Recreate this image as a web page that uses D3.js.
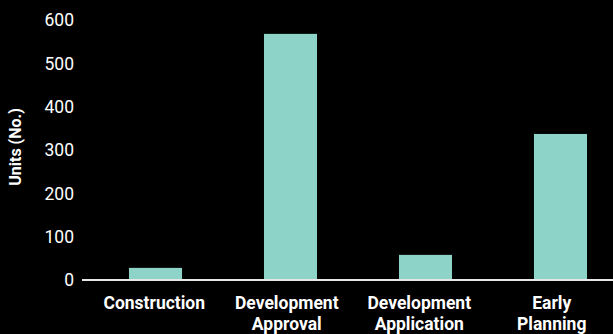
<!DOCTYPE html>
<html>
<head>
<meta charset="utf-8">
<script src="https://cdn.jsdelivr.net/npm/d3@7"></script>
<style>
  html, body { margin: 0; padding: 0; background: #000; }
  svg { display: block; font-family: Roboto, "Noto Sans", sans-serif; }
</style>
</head>
<body>
<div id="chart"></div>
<script>
"use strict";

var categories = ["Construction", "Development Approval", "Development Application", "Early Planning"];
var units = [28, 568, 58, 337];
var yTicks = [0, 100, 200, 300, 400, 500, 600];

var width = 613, height = 334;
var barColor = "#8dd3c7";

var svg = d3.select("#chart").append("svg")
    .attr("width", width)
    .attr("height", height);

var x = d3.scaleBand()
    .domain(categories)
    .range([82, 634])
    .paddingInner(0.607)
    .paddingOuter(0.348);

// labels sit on a slightly narrower band than the bars
var xLabels = d3.scaleBand()
    .domain(categories)
    .range([88, 618]);

var y = d3.scaleLinear()
    .domain([0, 600])
    .range([280, 20]);

// y axis ticks (no line)
svg.append("g")
    .selectAll("text")
    .data(yTicks)
  .enter().append("text")
    .attr("x", 74)
    .attr("y", function (d) { return y(d); })
    .attr("dy", "0.36em")
    .attr("text-anchor", "end")
    .attr("fill", "#fff")
    .style("font-size", "17.5px")
    .text(function (d) { return d; });

svg.append("text")
    .attr("transform", "translate(15,147) rotate(-90)")
    .attr("text-anchor", "middle")
    .attr("dy", "0.35em")
    .attr("fill", "#fff")
    .style("font-size", "16px")
    .style("font-weight", "bold")
    .text("Units (No.)");

// bars
svg.append("g")
    .selectAll("rect")
    .data(categories)
  .enter().append("rect")
    .attr("x", function (d) { return x(d); })
    .attr("width", x.bandwidth())
    .attr("y", function (d, i) { return y(units[i]); })
    .attr("height", function (d, i) { return y(0) - y(units[i]); })
    .attr("fill", barColor);

// baseline
svg.append("line")
    .attr("x1", 82)
    .attr("x2", width)
    .attr("y1", y(0))
    .attr("y2", y(0))
    .attr("stroke", "#e6e6e6")
    .attr("stroke-width", 2);

// category labels, wrapped onto two lines
var label = svg.append("g")
    .selectAll("text")
    .data(categories)
  .enter().append("text")
    .attr("text-anchor", "middle")
    .attr("fill", "#fff")
    .style("font-size", "17.5px")
    .style("font-weight", "bold")
    .attr("transform", function (d) {
        return "translate(" + (xLabels(d) + xLabels.bandwidth() / 2) + ",309)";
    });

label.each(function (d) {
    var parts = d.split(" ");
    var el = d3.select(this);
    parts.forEach(function (p, i) {
        el.append("tspan")
            .attr("x", 0)
            .attr("y", i * 21)
            .text(p);
    });
});
</script>
</body>
</html>
